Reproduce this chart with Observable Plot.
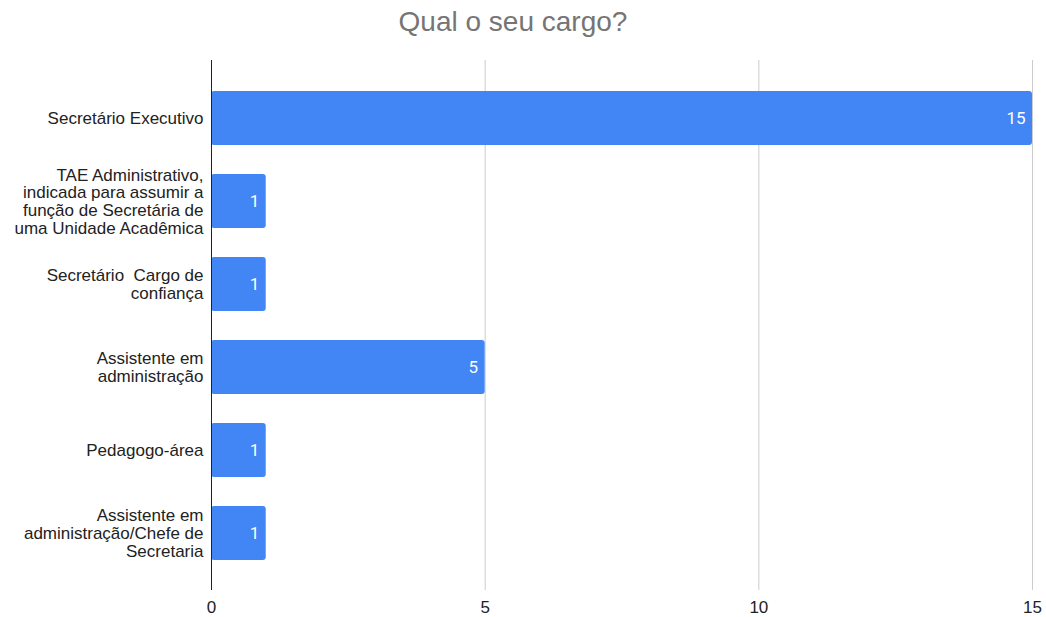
<!DOCTYPE html>
<html>
<head>
<meta charset="utf-8">
<script src="https://cdn.jsdelivr.net/npm/d3@7"></script>
<script src="https://cdn.jsdelivr.net/npm/@observablehq/plot@0.6"></script>
<style>
  html, body { margin: 0; padding: 0; background: #fff; }
  #title { height: 48px; width: 1046px; text-align: center; font-family: "Liberation Sans", Arial, sans-serif; font-size: 28px; color: #757575; line-height: 44px; box-sizing: border-box; position: relative; left: -10px; }
</style>
</head>
<body>
<div id="title">Qual o seu cargo?</div>
<div id="chart"></div>
<script>
const categories = [
  "Secretário Executivo",
  "TAE Administrativo,\nindicada para assumir a\nfunção de Secretária de\numa Unidade Acadêmica",
  "Secretário  Cargo de\nconfiança",
  "Assistente em\nadministração",
  "Pedagogo-área",
  "Assistente em\nadministração/Chefe de\nSecretaria"
];
const values = [15, 1, 1, 5, 1, 1];
const xTicks = [0, 5, 10, 15];

const data = categories.map((c, i) => ({cargo: c, n: values[i]}));

const chart = Plot.plot({
  width: 1046,
  height: 569,
  marginTop: 12,
  marginBottom: 27,
  marginLeft: 211,
  marginRight: 14,
  style: {fontFamily: "'Liberation Sans', Arial, sans-serif", fontSize: "17px", color: "#222", background: "#fff"},
  x: {domain: [0, 15], ticks: xTicks, label: null},
  y: {domain: categories, paddingInner: 0.35, paddingOuter: 0.36, label: null, axis: null},
  marks: [
    Plot.gridX(xTicks.filter(d => d > 0), {stroke: "#cccccc", strokeOpacity: 1}),
    Plot.barX(data, {x: "n", y: "cargo", fill: "#4285f4", rx: 3}),
    Plot.ruleX([0], {stroke: "#222"}),
    Plot.axisX(xTicks, {tickSize: 0, tickPadding: 10, fontSize: 17, fill: "#222"}),
    Plot.text(data, {x: 0, y: "cargo", text: "cargo", textAnchor: "end", dx: -8, lineHeight: 1.04, fontSize: 17, fill: "#222"}),
    Plot.text(data, {x: "n", y: "cargo", text: d => String(d.n), textAnchor: "end", dx: -7, fontSize: 17, fill: "#ffffff", fontFamily: "Roboto, Arial, sans-serif"})
  ]
});
document.getElementById("chart").appendChild(chart);
</script>
</body>
</html>
